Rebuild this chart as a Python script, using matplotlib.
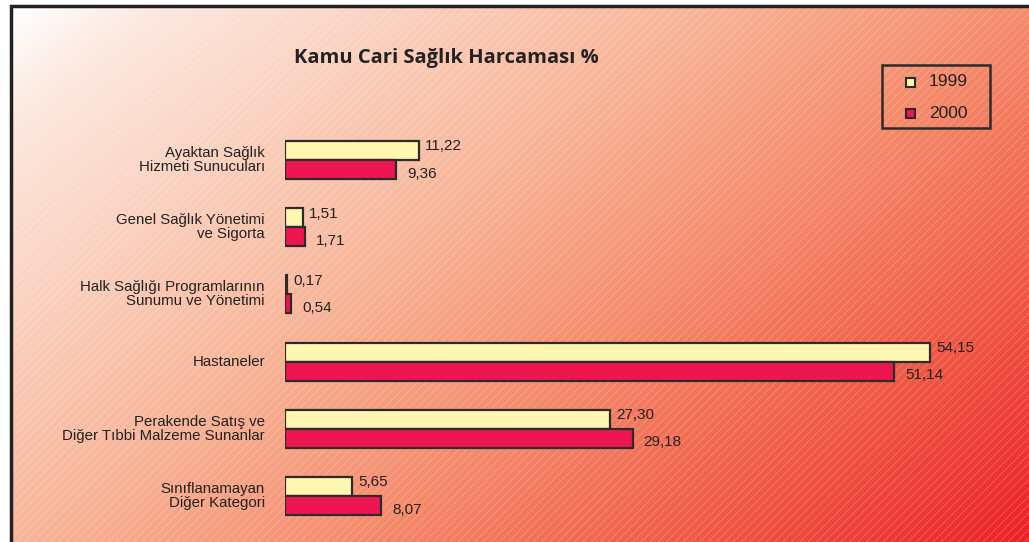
import numpy as np
import matplotlib
matplotlib.use("Agg")
import matplotlib.pyplot as plt
from matplotlib.colors import LinearSegmentedColormap
from matplotlib.patches import Rectangle

categories = [
    "Ayaktan Sağlık\nHizmeti Sunucuları",
    "Genel Sağlık Yönetimi\nve Sigorta",
    "Halk Sağlığı Programlarının\nSunumu ve Yönetimi",
    "Hastaneler",
    "Perakende Satış ve\nDiğer Tıbbi Malzeme Sunanlar",
    "Sınıflanamayan\nDiğer Kategori",
]
series_names = ["1999", "2000"]
values_1999 = [11.22, 1.51, 0.17, 54.15, 27.30, 5.65]
values_2000 = [9.36, 1.71, 0.54, 51.14, 29.18, 8.07]
title = "Kamu Cari Sağlık Harcaması %"

colors = ["#FFF6B2", "#EE1651"]
edge = "#2b2b2b"

W, H = 1029, 542
fig = plt.figure(figsize=(W / 100, H / 100), dpi=100)
fig.patch.set_facecolor("white")

# background gradient panel
bg = fig.add_axes([0, 0, 1, 1], zorder=0)
bg.set_xlim(0, W)
bg.set_ylim(H, 0)
bg.axis("off")
xx, yy = np.meshgrid(np.linspace(0, 1, 300), np.linspace(0, 1, 160))
t = np.clip(0.6 * xx + 0.4 * yy, 0, 1)
cmap = LinearSegmentedColormap.from_list(
    "bgc",
    [(0.0, "#ffffff"), (0.08, "#fde9e0"), (0.4, "#f8b69a"),
     (0.6, "#f58c6c"), (0.8, "#f05a46"), (1.0, "#ec2226")],
)
bg.imshow(t, cmap=cmap, extent=[11, W, H, 6], aspect="auto", interpolation="bilinear", zorder=0)
plt.rcParams["hatch.linewidth"] = 0.5
bg.add_patch(Rectangle((11, 6), W - 11, H - 6, facecolor="none",
                       edgecolor=(1, 1, 1, 0.28), hatch="////", linewidth=0, zorder=1))
bg.plot([11, 11, W + 5], [H + 5, 6, 6], color="#222222", lw=2.5, zorder=2,
        solid_joinstyle="miter")

# title
bg.text(446, 58, title, ha="center", va="center", fontsize=14.5, fontweight="bold",
        family="Open Sans", color="#222222", zorder=3)

# legend drawn manually
bg.add_patch(Rectangle((882, 65), 108, 63, facecolor="none", edgecolor="#2b2b2b",
                       lw=1.8, zorder=3))
for i, (name, c) in enumerate(zip(series_names, colors)):
    yc = 82 + i * 31
    bg.add_patch(Rectangle((906, yc - 4.5), 9, 9, facecolor=c, edgecolor=edge, lw=1.5, zorder=3))
    bg.text(929, yc, name, ha="left", va="center", fontsize=12.5,
            family="Liberation Sans", color="#222222", zorder=3)

# main bars
px_per_unit = 11.91
x0 = 285
ax_w = 738
group_px = 67.2
top_px = 160 - group_px / 2
ax = fig.add_axes([x0 / W, (H - (top_px + 6 * group_px)) / H, ax_w / W, 6 * group_px / H], zorder=2)
ax.set_facecolor("none")
ax.set_xlim(0, ax_w / px_per_unit)
ax.set_ylim(5.5, -0.5)
ax.axis("off")

y = np.arange(len(categories))
h = 19 / group_px
ax.barh(y - h / 2, values_1999, height=h, color=colors[0], edgecolor=edge, linewidth=1.6)
ax.barh(y + h / 2, values_2000, height=h, color=colors[1], edgecolor=edge, linewidth=1.6)

for yi, v in zip(y, values_1999):
    ax.annotate(f"{v:.2f}".replace(".", ","), xy=(v, yi - h / 2), xytext=(6, 4),
                textcoords="offset pixels", ha="left", va="center", fontsize=11,
                family="Liberation Sans", color="#222222")
for yi, v in zip(y, values_2000):
    ax.annotate(f"{v:.2f}".replace(".", ","), xy=(v, yi + h / 2), xytext=(11, -4),
                textcoords="offset pixels", ha="left", va="center", fontsize=11,
                family="Liberation Sans", color="#222222")
for yi, lab in zip(y, categories):
    ax.annotate(lab, xy=(0, yi), xytext=(-20, 0), textcoords="offset pixels",
                ha="right", va="center", fontsize=10.8, linespacing=1.0,
                family="Liberation Sans", color="#222222", multialignment="right")

fig.savefig("out.png", dpi=100)
